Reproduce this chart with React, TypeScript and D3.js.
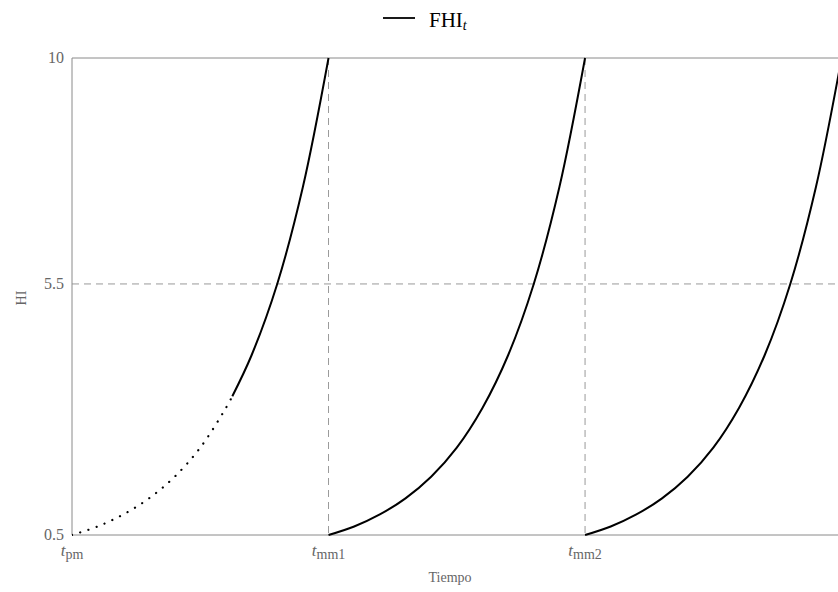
import React from "react";
import * as d3 from "d3";

// Health index along one maintenance cycle (fraction of the cycle → HI)
const cycleFraction = [0, 0.1, 0.2, 0.3, 0.4, 0.5, 0.6, 0.7, 0.8, 0.9, 1.0];
const hiValues = [0.5, 0.67, 0.91, 1.23, 1.66, 2.24, 3.03, 4.08, 5.5, 7.43, 10.0];

// Cycle starts on the time axis (t_pm = 0, t_mm1 = 1, t_mm2 = 2)
const cycleStarts = [0, 1, 2];
// Portion of the first cycle drawn dotted (before observation begins)
const dottedUntil = 0.625;

const xTickValues = [0, 1, 2];
const xTickSubs = ["pm", "mm1", "mm2"];
const yTickValues = [0.5, 5.5, 10];
const yTickLabels = ["0.5", "5.5", "10"];
const xMax = 2.986;

const W = 838;
const H = 592;
const left = 72;
const right = 838;
const top = 58;
const bottom = 535;

const axisGray = "#8a8a8a";
const gridGray = "#9a9a9a";
const labelGray = "#666666";
const font = "'Liberation Serif', 'DejaVu Serif', serif";

type Pt = { f: number; v: number };

export default function App() {
  const x = d3.scaleLinear().domain([0, xMax]).range([left, right]);
  const y = d3.scaleLinear().domain([0.5, 10]).range([bottom, top]);

  const points: Pt[] = cycleFraction.map((f, i) => ({ f, v: hiValues[i] }));

  const lineFor = (start: number) =>
    d3
      .line<Pt>()
      .x((d) => x(start + d.f))
      .y((d) => y(d.v))
      .curve(d3.curveCatmullRom.alpha(0.5));

  // value at the dotted/solid boundary, interpolated between the listed samples on a log scale
  const idx = d3.bisectRight(cycleFraction, dottedUntil) - 1;
  const f0 = cycleFraction[idx];
  const f1 = cycleFraction[idx + 1];
  const t = (dottedUntil - f0) / (f1 - f0);
  const boundary: Pt = {
    f: dottedUntil,
    v: Math.exp(Math.log(hiValues[idx]) * (1 - t) + Math.log(hiValues[idx + 1]) * t),
  };

  const dottedPts = [...points.filter((p) => p.f < dottedUntil), boundary];
  const solidPts = [boundary, ...points.filter((p) => p.f > dottedUntil)];

  return (
    <svg
      width={W}
      height={H}
      style={{ position: "absolute", left: 0, top: 0, background: "#fff" }}
      fontFamily={font}
    >
      <defs>
        <clipPath id="plotClip">
          <rect x={left} y={top - 2} width={right - left} height={bottom - top + 4} />
        </clipPath>
      </defs>

      {/* legend */}
      <line x1={383} x2={415} y1={18} y2={18} stroke="#000" strokeWidth={1.8} />
      <text x={429} y={27} fontSize={21} fill="#000">
        FHI
        <tspan fontStyle="italic" fontSize={14} dy={3}>
          t
        </tspan>
      </text>

      {/* reference lines */}
      <line
        x1={left}
        x2={right}
        y1={y(5.5)}
        y2={y(5.5)}
        stroke={gridGray}
        strokeWidth={1}
        strokeDasharray="7,5"
      />
      {xTickValues.slice(1).map((v) => (
        <line
          key={v}
          x1={x(v)}
          x2={x(v)}
          y1={top}
          y2={bottom}
          stroke={gridGray}
          strokeWidth={1}
          strokeDasharray="7,5"
        />
      ))}

      {/* frame */}
      <line x1={left} x2={right} y1={top} y2={top} stroke={axisGray} strokeWidth={1} />
      <line x1={left} x2={left} y1={top} y2={bottom} stroke={axisGray} strokeWidth={1} />
      <line x1={left} x2={right} y1={bottom} y2={bottom} stroke={axisGray} strokeWidth={1} />

      {/* curves */}
      <g clipPath="url(#plotClip)" fill="none" stroke="#000">
        <path
          d={lineFor(cycleStarts[0])(dottedPts) ?? ""}
          strokeWidth={2.2}
          strokeDasharray="0.1,8.5"
          strokeLinecap="round"
        />
        <path d={lineFor(cycleStarts[0])(solidPts) ?? ""} strokeWidth={2} />
        {cycleStarts.slice(1).map((s) => (
          <path key={s} d={lineFor(s)(points) ?? ""} strokeWidth={2} />
        ))}
      </g>

      {/* y tick labels */}
      {yTickValues.map((v, i) => (
        <text
          key={v}
          x={left - 8}
          y={y(v)}
          dy="0.32em"
          textAnchor="end"
          fontSize={16}
          fill={labelGray}
        >
          {yTickLabels[i]}
        </text>
      ))}

      {/* x tick labels */}
      {xTickValues.map((v, i) => (
        <text key={v} x={x(v)} y={556} textAnchor="middle" fontSize={17} fill={labelGray}>
          <tspan fontStyle="italic">t</tspan>
          <tspan fontSize={14} dy={3}>
            {xTickSubs[i]}
          </tspan>
        </text>
      ))}

      {/* axis titles */}
      <text x={450} y={582} textAnchor="middle" fontSize={14} fill={labelGray}>
        Tiempo
      </text>
      <text
        transform={`translate(26, 298) rotate(-90)`}
        textAnchor="middle"
        fontSize={14}
        fill={labelGray}
      >
        HI
      </text>
    </svg>
  );
}
